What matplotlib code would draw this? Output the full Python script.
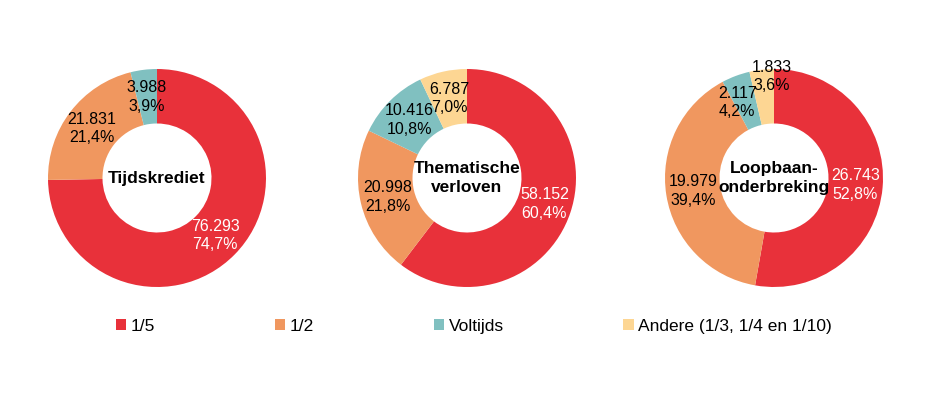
import numpy as np
import matplotlib.pyplot as plt
from matplotlib.patches import Patch

plt.rcParams['font.family'] = ['Liberation Sans', 'DejaVu Sans']

categories = ['1/5', '1/2', 'Voltijds', 'Andere (1/3, 1/4 en 1/10)']
colors = ['#E8313A', '#F0975F', '#80C0C0', '#FDD693']

titles = ['Tijdskrediet', 'Thematische\nverloven', 'Loopbaan-\nonderbreking']
tijdskrediet = [76293, 21831, 3988]
thematische = [58152, 20998, 10416, 6787]
loopbaan = [26743, 19979, 2117, 1833]
series = [tijdskrediet, thematische, loopbaan]

# label nudges in pixels (dx, dy) for crowded small slices: (chart, slice) -> offset
nudges = {(2, 2): (-8, -1), (2, 3): (7, 20)}


def fmt_num(v):
    return f'{v:,}'.replace(',', '.')


def fmt_pct(p):
    return f'{p:.1f}%'.replace('.', ',')


W, H = 948, 399
fig = plt.figure(figsize=(W / 100, H / 100), dpi=100)
ax = fig.add_axes([0, 0, 1, 1])

centers_x = [157, 467, 774]
center_y = H - 178
radius = 109

for i, (vals, title) in enumerate(zip(series, titles)):
    vals = np.array(vals)
    c = (centers_x[i], center_y)
    ax.pie(vals, colors=colors[:len(vals)], startangle=90, counterclock=False,
           center=c, radius=radius,
           wedgeprops=dict(width=radius * 0.5, linewidth=0))
    pct = vals / vals.sum() * 100
    cum = np.cumsum(pct) - pct / 2
    for j, (v, p, m) in enumerate(zip(vals, pct, cum)):
        ang = np.deg2rad(90 - m * 3.6)
        r = radius * 0.75
        x = c[0] + r * np.cos(ang)
        y = c[1] + r * np.sin(ang)
        dx, dy = nudges.get((i, j), (0, 0))
        col = 'white' if j == 0 else 'black'
        ax.annotate(fmt_num(v) + '\n' + fmt_pct(p), (x, y), xytext=(dx, dy),
                    textcoords='offset pixels', ha='center', va='center',
                    fontsize=11.5, color=col, linespacing=1.28)
    ax.text(c[0], c[1], title, ha='center', va='center', fontsize=12.5,
            fontweight='bold', linespacing=1.3)

ax.set_xlim(0, W)
ax.set_ylim(0, H)
ax.set_aspect('equal')
ax.axis('off')

handles = [Patch(facecolor=col, edgecolor='none') for col in colors]
fig.legend(handles, categories, ncol=4, frameon=False, fontsize=12.5,
           loc='center left', bbox_to_anchor=(116 / W, (H - 326.5) / H),
           borderpad=0, borderaxespad=0, handlelength=0.6, handleheight=0.6,
           handletextpad=0.25, columnspacing=6.9)

fig.savefig('out.png', dpi=100)
